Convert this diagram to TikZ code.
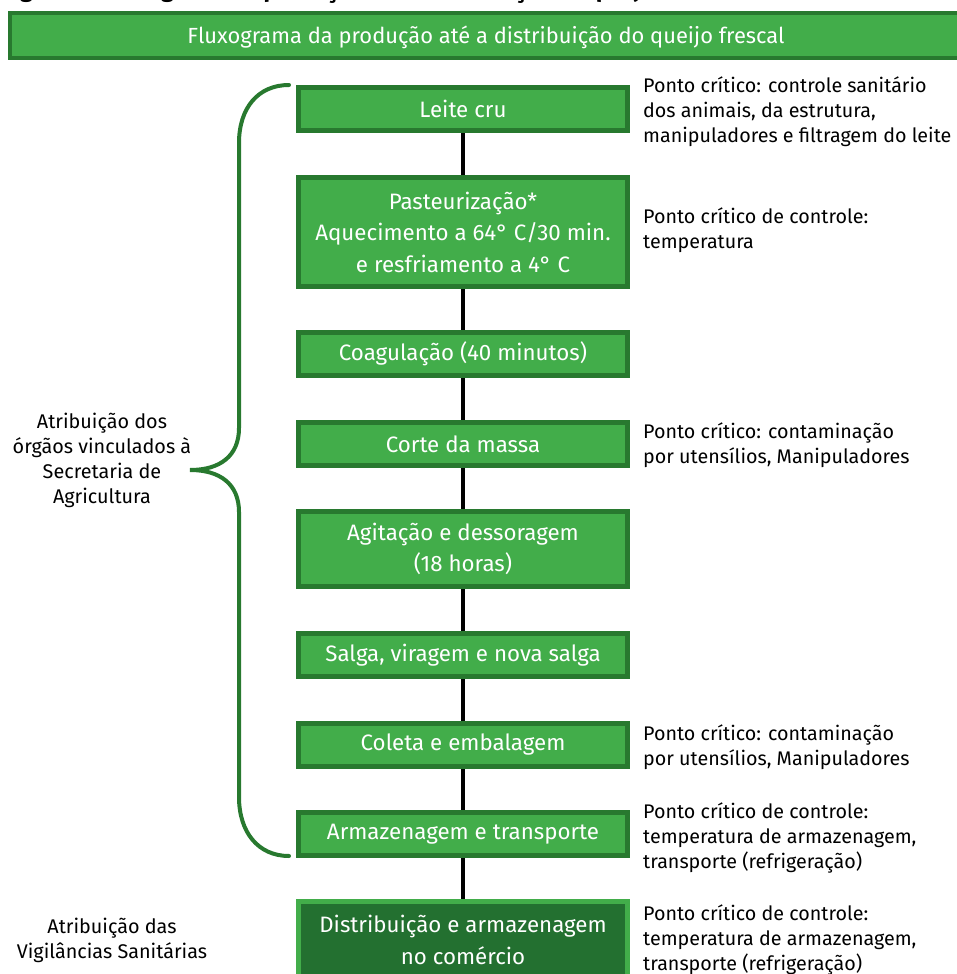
\documentclass[tikz,border=0pt]{standalone}
\usepackage{fontspec}
\setmainfont{Fira Sans}
\usetikzlibrary{backgrounds}
\definecolor{gfill}{HTML}{42AD4A}
\definecolor{gdark}{HTML}{28792F}
\definecolor{gdeep}{HTML}{237030}
\tikzset{
  stepbox/.style={draw=gdark, line width=5pt, fill=gfill, text=white, inner sep=0pt, outer sep=0pt,
    minimum width=329pt, align=center, font=\fontsize{22.3}{31.5}\selectfont},
  lastbox/.style={stepbox, draw=gfill, fill=gdeep},
  hdrbox/.style={draw=gdark, line width=4pt, fill=gfill, text=white, inner sep=0pt, outer sep=0pt,
    text height=17pt, text depth=0pt, font=\fontsize{21.9}{26}\selectfont},
  note/.style={anchor=west, inner sep=0pt, align=left, font=\fontsize{19.7}{25}\selectfont},
  side/.style={inner sep=0pt, align=center, font=\fontsize{19.8}{25}\selectfont},
  conn/.style={draw=black, line width=4pt},
  bracket/.style={draw=gdark, line width=4pt, line cap=round},
}
\begin{document}
\begin{tikzpicture}[x=1pt,y=-1pt]
\useasboundingbox (0,0) rectangle (956,974);
% cut-off title (only its lowest parts fall inside the page)
\begin{scope}
  \clip (0,0) rectangle (956,9);
  \node[anchor=base west, inner sep=0pt, font=\bfseries\fontsize{22.9}{26}\selectfont] (title) at (3,-2)
    {Figura 1 – Fluxograma da produção até a distribuição do queijo frescal};
\end{scope}
% header
\node[hdrbox, minimum width=952pt, minimum height=45pt] (hdr) at (486,35.5)
  {Fluxograma da produção até a distribuição do queijo frescal};
% steps
\node[stepbox, minimum height=43pt] (b1) at (463,109) {Leite cru};
\node[stepbox, minimum height=109pt] (b2) at (463,232) {Pasteurização*\\Aquecimento a 64° C/30 min.\\e resfriamento a 4° C};
\node[stepbox, minimum height=43pt] (b3) at (463,354) {Coagulação (40 minutos)};
\node[stepbox, minimum height=43pt] (b4) at (463,444) {Corte da massa};
\node[stepbox, minimum height=75pt] (b5) at (463,549) {Agitação e dessoragem\\(18 horas)};
\node[stepbox, minimum height=43pt] (b6) at (463,655) {Salga, viragem e nova salga};
\node[stepbox, minimum height=43pt] (b7) at (463,745) {Coleta e embalagem};
\node[stepbox, minimum height=43pt] (b8) at (463,834) {Armazenagem e transporte};
\node[lastbox, minimum height=77pt] (b9) at (463,940) {Distribuição e armazenagem\\no comércio};
% connectors
\begin{pgfonlayer}{background}
  \draw[conn] (b1) -- (b2);
  \draw[conn] (b2) -- (b3);
  \draw[conn] (b3) -- (b4);
  \draw[conn] (b4) -- (b5);
  \draw[conn] (b5) -- (b6);
  \draw[conn] (b6) -- (b7);
  \draw[conn] (b7) -- (b8);
  \draw[conn] (b8) -- (b9);
\end{pgfonlayer}
% notes
\node[note] (n1) at (643,112) {Ponto crítico: controle sanitário\\dos animais, da estrutura,\\manipuladores e filtragem do leite};
\node[note] (n2) at (643,230) {Ponto crítico de controle:\\temperatura};
\node[note] (n3) at (643,445) {Ponto crítico: contaminação\\por utensílios, Manipuladores};
\node[note] (n4) at (643,747) {Ponto crítico: contaminação\\por utensílios, Manipuladores};
\node[note] (n5) at (643,838) {Ponto crítico de controle:\\temperatura de armazenagem,\\transporte (refrigeração)};
\node[note] (n6) at (643,940) {Ponto crítico de controle:\\temperatura de armazenagem,\\transporte (refrigeração)};
% brace and side labels
\draw[bracket] (289,85) .. controls (258,85) and (239,108) .. (239,143) -- (239,428)
  .. controls (239,456) and (220,470) .. (190,470)
  .. controls (220,470) and (239,484) .. (239,512) -- (239,797)
  .. controls (239,832) and (258,856) .. (289,856);
\node[side] (s1) at (102,460) {Atribuição dos\\órgãos vinculados à\\Secretaria de\\Agricultura};
\node[side] (s2) at (112,940) {Atribuição das\\Vigilâncias Sanitárias};
\end{tikzpicture}
\end{document}
